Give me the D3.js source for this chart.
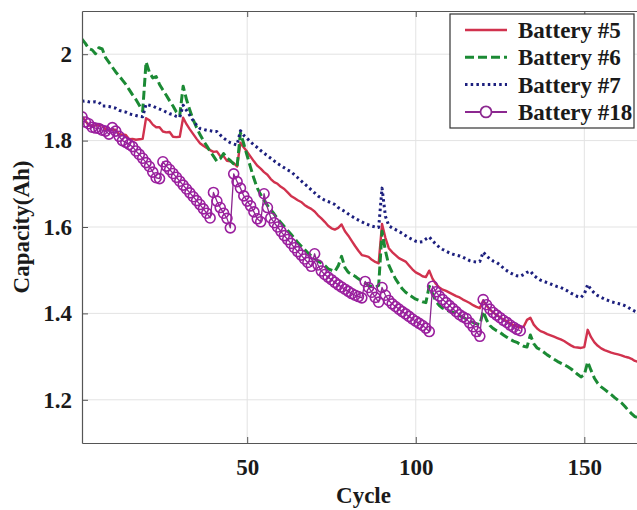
<!DOCTYPE html>
<html>
<head>
<meta charset="utf-8">
<script src="https://cdn.jsdelivr.net/npm/d3@7"></script>
<style>
  body { margin: 0; background: #fff; }
  svg { display: block; }
  text { font-family: "Liberation Serif", "Times New Roman", serif; font-weight: bold; fill: #1a1a1a; }
</style>
</head>
<body>
<div id="chart"></div>
<script>
// capacity per cycle
var battery5 = [1.856,1.846,1.835,1.835,1.835,1.836,1.835,1.826,1.825,1.825,1.825,1.814,1.814,1.813,1.803,1.804,1.802,1.803,1.804,1.852,
  1.847,1.837,1.831,1.831,1.821,1.819,1.820,1.809,1.808,1.809,1.853,1.838,1.826,1.815,1.804,1.794,1.788,1.783,1.778,1.774,
  1.775,1.764,1.764,1.753,1.752,1.748,1.740,1.795,1.784,1.774,1.763,1.752,1.742,1.735,1.727,1.721,1.711,1.704,1.700,1.693,
  1.688,1.680,1.672,1.667,1.662,1.658,1.651,1.646,1.642,1.636,1.627,1.620,1.612,1.603,1.597,1.594,1.598,1.606,1.590,1.580,
  1.568,1.556,1.545,1.535,1.533,1.531,1.524,1.519,1.516,1.607,1.575,1.551,1.542,1.535,1.528,1.524,1.520,1.511,1.502,1.495,
  1.491,1.486,1.484,1.499,1.480,1.468,1.460,1.455,1.452,1.448,1.444,1.440,1.437,1.432,1.428,1.424,1.419,1.415,1.412,1.430,
  1.418,1.409,1.402,1.396,1.391,1.386,1.382,1.377,1.373,1.370,1.367,1.369,1.385,1.390,1.374,1.365,1.359,1.356,1.352,1.349,
  1.346,1.343,1.340,1.336,1.331,1.326,1.322,1.321,1.320,1.322,1.362,1.345,1.333,1.325,1.319,1.315,1.312,1.309,1.307,1.305,
  1.303,1.300,1.298,1.295,1.290,1.288,1.288,1.287];
var battery6 = [2.035,2.025,2.013,2.010,2.001,2.015,2.012,1.992,1.981,1.970,1.959,1.950,1.940,1.930,1.918,1.906,1.895,1.882,1.868,1.982,
  1.958,1.945,1.948,1.930,1.917,1.905,1.892,1.880,1.866,1.858,1.926,1.895,1.870,1.848,1.830,1.814,1.800,1.788,1.775,1.764,
  1.752,1.758,1.770,1.760,1.754,1.746,1.740,1.818,1.792,1.765,1.738,1.712,1.690,1.675,1.662,1.650,1.640,1.630,1.619,1.610,
  1.601,1.592,1.583,1.574,1.564,1.556,1.548,1.540,1.533,1.527,1.521,1.517,1.511,1.503,1.500,1.497,1.510,1.532,1.506,1.495,
  1.490,1.486,1.480,1.475,1.470,1.465,1.462,1.460,1.465,1.590,1.545,1.512,1.495,1.480,1.468,1.457,1.449,1.443,1.438,1.433,
  1.430,1.427,1.425,1.463,1.445,1.428,1.418,1.412,1.408,1.405,1.403,1.399,1.395,1.391,1.387,1.383,1.379,1.376,1.374,1.405,
  1.385,1.372,1.365,1.360,1.356,1.350,1.345,1.340,1.336,1.333,1.328,1.324,1.322,1.350,1.330,1.320,1.316,1.310,1.304,1.299,
  1.294,1.289,1.285,1.281,1.277,1.272,1.266,1.259,1.253,1.258,1.288,1.268,1.250,1.238,1.230,1.224,1.218,1.212,1.205,1.199,
  1.193,1.185,1.176,1.168,1.161,1.158,1.155,1.154];
var battery7 = [1.891,1.892,1.890,1.889,1.890,1.889,1.880,1.880,1.879,1.877,1.875,1.870,1.868,1.866,1.862,1.860,1.858,1.856,1.855,1.884,
  1.882,1.880,1.876,1.873,1.870,1.866,1.862,1.860,1.856,1.854,1.882,1.870,1.858,1.846,1.836,1.828,1.826,1.824,1.823,1.821,
  1.821,1.813,1.806,1.800,1.795,1.792,1.790,1.823,1.812,1.805,1.797,1.790,1.784,1.777,1.771,1.765,1.759,1.753,1.747,1.742,
  1.737,1.732,1.728,1.721,1.714,1.707,1.700,1.693,1.686,1.679,1.672,1.667,1.662,1.659,1.656,1.652,1.645,1.640,1.636,1.630,
  1.625,1.620,1.616,1.612,1.608,1.605,1.602,1.600,1.599,1.690,1.625,1.603,1.598,1.594,1.590,1.585,1.580,1.575,1.571,1.567,
  1.565,1.566,1.572,1.577,1.568,1.560,1.553,1.548,1.544,1.540,1.537,1.535,1.533,1.530,1.526,1.522,1.520,1.519,1.520,1.542,
  1.533,1.526,1.521,1.518,1.512,1.505,1.499,1.494,1.490,1.487,1.486,1.490,1.495,1.498,1.488,1.482,1.477,1.474,1.471,1.468,
  1.465,1.462,1.460,1.456,1.452,1.447,1.443,1.439,1.437,1.445,1.467,1.455,1.447,1.441,1.437,1.433,1.430,1.427,1.425,1.423,
  1.421,1.418,1.414,1.409,1.405,1.402,1.400,1.398];
var battery18 = [1.855,1.843,1.839,1.831,1.829,1.828,1.824,1.822,1.815,1.830,1.822,1.810,1.800,1.796,1.791,1.786,1.776,1.768,1.759,1.749,
  1.740,1.727,1.714,1.712,1.751,1.741,1.733,1.724,1.715,1.706,1.697,1.688,1.679,1.670,1.661,1.652,1.642,1.632,1.621,1.680,
  1.660,1.645,1.632,1.620,1.598,1.723,1.705,1.690,1.672,1.660,1.649,1.635,1.619,1.612,1.677,1.645,1.621,1.610,1.600,1.590,
  1.580,1.571,1.562,1.552,1.543,1.535,1.526,1.518,1.509,1.538,1.512,1.498,1.490,1.484,1.478,1.472,1.466,1.461,1.456,1.451,
  1.446,1.442,1.439,1.436,1.474,1.460,1.449,1.437,1.426,1.460,1.442,1.430,1.422,1.416,1.410,1.404,1.399,1.393,1.387,1.382,
  1.377,1.372,1.366,1.358,1.463,1.450,1.440,1.432,1.425,1.418,1.411,1.404,1.397,1.392,1.388,1.378,1.369,1.358,1.347,1.432,
  1.420,1.410,1.402,1.396,1.390,1.384,1.379,1.373,1.368,1.363,1.360];

var seriesNames = ["Battery #5", "Battery #6", "Battery #7", "Battery #18"];
var xTicks = [50, 100, 150];
var yTicks = [1.2, 1.4, 1.6, 1.8, 2];

var width = 637, height = 510;
var margin = {top: 11, left: 82, bottom: 67, right: -8};  // plot box runs past the right edge

var svg = d3.select("#chart").append("svg").attr("width", width).attr("height", height);

var x = d3.scaleLinear().domain([1, 168]).range([margin.left, width - margin.right]);
var y = d3.scaleLinear().domain([1.1, 2.1]).range([height - margin.bottom, margin.top]);

var x0 = margin.left, x1 = width - margin.right, y0 = height - margin.bottom, y1 = margin.top;

// grid
var grid = svg.append("g");
grid.selectAll(".gx").data(xTicks).enter().append("line")
    .attr("x1", function(d){ return x(d); }).attr("x2", function(d){ return x(d); })
    .attr("y1", y0).attr("y2", y1)
    .attr("stroke", "#e3e3e3").attr("stroke-width", 1);
grid.selectAll(".gy").data(yTicks).enter().append("line")
    .attr("x1", x0).attr("x2", x1)
    .attr("y1", function(d){ return y(d); }).attr("y2", function(d){ return y(d); })
    .attr("stroke", "#e3e3e3").attr("stroke-width", 1);

// lines
var plot = svg.append("g");
svg.append("clipPath").attr("id", "clip").append("rect")
    .attr("x", x0).attr("y", y1).attr("width", x1 - x0).attr("height", y0 - y1);
plot.attr("clip-path", "url(#clip)");

function toPoints(arr){
    return arr.map(function(v, i){ return {c: i + 1, v: v}; });
}
var line = d3.line().x(function(d){ return x(d.c); }).y(function(d){ return y(d.v); });

var styles = [
    {data: battery5, color: "#d1324e", width: 2.4, dash: null},
    {data: battery6, color: "#1b8a34", width: 3, dash: "9,4"},
    {data: battery7, color: "#1c1f7e", width: 3, dash: "2.5,3.2"},
    {data: battery18, color: "#8c2890", width: 1.3, dash: null}
];

styles.forEach(function(s){
    plot.append("path").datum(toPoints(s.data))
        .attr("d", line)
        .attr("fill", "none")
        .attr("stroke", s.color)
        .attr("stroke-width", s.width)
        .attr("stroke-dasharray", s.dash)
        .attr("stroke-linejoin", "round");
});

plot.selectAll("circle.m18").data(toPoints(battery18)).enter().append("circle")
    .attr("class", "m18")
    .attr("cx", function(d){ return x(d.c); })
    .attr("cy", function(d){ return y(d.v); })
    .attr("r", 5)
    .attr("fill", "none")
    .attr("stroke", "#9a1f9e")
    .attr("stroke-width", 1.6);

// axes (inward ticks, box on)
var axColor = "#555";
var bottomAxis = svg.append("g").attr("transform", "translate(0," + y0 + ")")
    .call(d3.axisBottom(x).tickValues(xTicks).tickSizeInner(-6).tickSizeOuter(0).tickPadding(16));
var topAxis = svg.append("g").attr("transform", "translate(0," + y1 + ")")
    .call(d3.axisTop(x).tickValues(xTicks).tickSizeInner(-6).tickSizeOuter(0).tickFormat(""));
var leftAxis = svg.append("g").attr("transform", "translate(" + x0 + ",0)")
    .call(d3.axisLeft(y).tickValues(yTicks).tickSizeInner(-6).tickSizeOuter(0).tickPadding(10).tickFormat(d3.format("")));

[bottomAxis, topAxis, leftAxis].forEach(function(a){
    a.select(".domain").attr("stroke", axColor).attr("stroke-width", 1.2);
    a.selectAll(".tick line").attr("stroke", axColor);
    a.selectAll("text").attr("font-size", 23).attr("font-family", null).attr("fill", "#1a1a1a");
});

// axis labels
svg.append("text").attr("x", (x0 + x1) / 2).attr("y", 503)
    .attr("text-anchor", "middle").attr("font-size", 23).text("Cycle");
svg.append("text").attr("transform", "translate(29," + (y0 + y1) / 2 + ") rotate(-90)")
    .attr("text-anchor", "middle").attr("font-size", 23).text("Capacity(Ah)");

// legend
var lg = svg.append("g").attr("transform", "translate(450,14)");
lg.append("rect").attr("width", 184).attr("height", 114)
    .attr("fill", "#fff").attr("stroke", "#333").attr("stroke-width", 1.2);
var rows = lg.selectAll("g.row").data(seriesNames).enter().append("g")
    .attr("class", "row")
    .attr("transform", function(d, i){ return "translate(0," + (16 + i * 27.3) + ")"; });
rows.append("line")
    .attr("x1", 15).attr("x2", 57).attr("y1", 0).attr("y2", 0)
    .attr("stroke", function(d, i){ return styles[i].color; })
    .attr("stroke-width", function(d, i){ return i == 3 ? 2 : styles[i].width; })
    .attr("stroke-dasharray", function(d, i){ return styles[i].dash; });
lg.append("circle").attr("cx", 36).attr("cy", 16 + 3 * 27.3).attr("r", 5.5)
    .attr("fill", "#fff").attr("stroke", "#8c2890").attr("stroke-width", 1.8);
rows.append("text").attr("x", 68).attr("y", 8)
    .attr("font-size", 23).text(function(d){ return d; });
</script>
</body>
</html>
